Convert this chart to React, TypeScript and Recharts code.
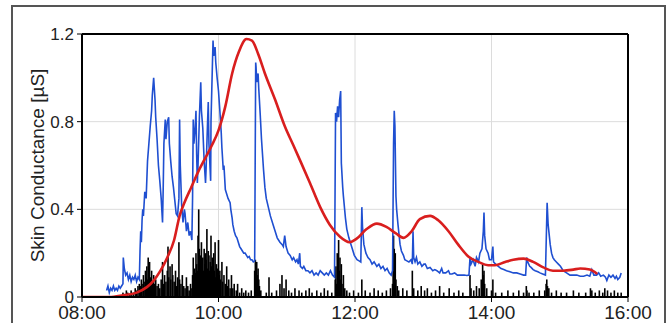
import React from "react";
import { ComposedChart, Line, Bar, XAxis, YAxis, CartesianGrid, ReferenceLine } from "recharts";

const xTicks = [8, 10, 12, 14, 16];
const yTicks = [0, 0.4, 0.8, 1.2];

// Skin conductance (blue), [hour, µS]
const blueSeries: [number, number][] = [
  [8.36,0.03],[8.38,0.05],[8.40,0.02],[8.42,0.04],[8.44,0.03],[8.46,0.05],[8.48,0.03],[8.50,0.04],[8.52,0.03],[8.54,0.05],[8.56,0.04],[8.58,0.05],
  [8.60,0.06],[8.605,0.18],[8.62,0.13],[8.64,0.10],[8.66,0.11],[8.68,0.08],[8.70,0.10],[8.72,0.07],[8.74,0.09],[8.76,0.08],[8.78,0.10],[8.80,0.07],[8.82,0.09],[8.84,0.08],
  [8.85,0.21],[8.86,0.30],[8.87,0.25],[8.88,0.35],[8.89,0.40],[8.90,0.37],[8.92,0.48],[8.94,0.45],[8.96,0.62],[8.98,0.70],[9.00,0.78],[9.02,0.85],[9.03,0.92],[9.05,1.00],[9.06,0.95],[9.07,0.90],[9.08,0.82],[9.10,0.72],[9.12,0.60],[9.14,0.53],[9.16,0.45],[9.18,0.34],[9.19,0.50],[9.20,0.70],[9.22,0.81],[9.23,0.72],[9.25,0.80],[9.27,0.82],[9.28,0.70],[9.30,0.62],[9.32,0.55],[9.34,0.50],[9.36,0.44],[9.38,0.38],[9.40,0.37],[9.42,0.45],[9.43,0.81],[9.44,0.60],[9.46,0.42],[9.48,0.34],[9.50,0.40],[9.51,0.38],[9.53,0.30],[9.55,0.34],[9.57,0.28],[9.59,0.30],[9.61,0.26],
  [9.62,0.45],[9.63,0.81],[9.64,0.70],[9.66,0.78],[9.67,0.85],[9.68,0.65],[9.69,0.52],[9.70,0.60],[9.72,0.82],[9.74,0.98],[9.75,0.85],[9.77,0.77],[9.79,0.62],[9.81,0.52],[9.82,0.60],[9.84,0.80],[9.85,0.89],[9.86,0.70],[9.885,0.53],[9.89,0.80],[9.91,1.05],[9.92,1.17],[9.93,1.10],[9.95,1.14],[9.96,1.07],[9.98,1.00],[10.00,0.94],[10.02,0.85],[10.04,0.75],[10.05,0.68],[10.07,0.58],[10.08,0.60],[10.10,0.49],[10.12,0.47],[10.14,0.45],[10.17,0.43],[10.18,0.40],[10.20,0.36],[10.21,0.33],[10.23,0.30],[10.25,0.28],[10.27,0.27],[10.29,0.25],[10.31,0.23],[10.33,0.22],[10.35,0.21],[10.37,0.20],[10.39,0.20],[10.41,0.19],[10.43,0.18],[10.45,0.185],[10.47,0.17],[10.49,0.17],[10.51,0.16],[10.53,0.165],
  [10.545,1.07],[10.55,1.05],[10.56,0.98],[10.58,1.02],[10.59,0.95],[10.61,0.84],[10.63,0.72],[10.66,0.58],[10.68,0.50],[10.70,0.45],[10.73,0.41],[10.76,0.37],[10.80,0.33],[10.83,0.30],[10.86,0.27],[10.90,0.25],[10.93,0.24],[10.95,0.23],[10.97,0.28],[10.99,0.23],[11.02,0.20],[11.05,0.19],[11.08,0.17],[11.10,0.18],[11.13,0.16],[11.15,0.17],[11.17,0.15],[11.19,0.20],[11.20,0.14],[11.23,0.13],[11.25,0.14],[11.28,0.12],[11.31,0.12],[11.34,0.11],[11.37,0.12],[11.40,0.10],[11.43,0.11],[11.46,0.10],[11.49,0.12],[11.52,0.11],[11.55,0.10],[11.58,0.11],[11.61,0.10],[11.64,0.12],[11.67,0.10],[11.70,0.09],
  [11.715,0.84],[11.73,0.80],[11.745,0.87],[11.76,0.82],[11.775,0.90],[11.79,0.94],[11.80,0.61],[11.82,0.50],[11.83,0.46],[11.86,0.36],[11.88,0.31],[11.91,0.27],[11.95,0.23],[11.99,0.19],[12.03,0.17],[12.06,0.165],[12.085,0.16],[12.10,0.41],[12.11,0.32],[12.13,0.24],[12.16,0.20],[12.19,0.18],[12.22,0.17],[12.25,0.15],[12.28,0.16],[12.32,0.14],[12.35,0.15],[12.38,0.13],[12.41,0.14],[12.44,0.12],[12.47,0.13],[12.50,0.11],[12.53,0.10],[12.55,0.12],
  [12.565,0.70],[12.575,0.85],[12.585,0.78],[12.60,0.46],[12.61,0.40],[12.63,0.33],[12.66,0.24],[12.68,0.21],[12.71,0.19],[12.73,0.17],[12.76,0.165],[12.79,0.16],[12.82,0.17],[12.84,0.15],[12.85,0.30],[12.86,0.18],[12.88,0.16],[12.90,0.18],[12.92,0.15],[12.95,0.16],[12.98,0.14],[13.01,0.15],[13.03,0.15],[13.06,0.13],[13.10,0.135],[13.14,0.12],[13.17,0.125],[13.20,0.12],[13.24,0.11],[13.27,0.13],[13.29,0.11],[13.33,0.11],[13.37,0.12],[13.39,0.105],[13.42,0.105],[13.46,0.11],[13.50,0.10],[13.53,0.10],[13.56,0.10],[13.60,0.10],[13.64,0.098],[13.67,0.10],
  [13.685,0.18],[13.70,0.15],[13.73,0.17],[13.76,0.14],[13.78,0.18],[13.81,0.16],[13.83,0.20],[13.86,0.22],[13.88,0.30],[13.89,0.385],[13.90,0.28],[13.92,0.22],[13.95,0.20],[13.97,0.17],[14.00,0.17],[14.02,0.23],[14.03,0.16],[14.06,0.15],[14.10,0.14],[14.14,0.13],[14.18,0.125],[14.22,0.12],[14.27,0.115],[14.32,0.11],[14.37,0.11],[14.42,0.105],[14.47,0.10],[14.50,0.10],
  [14.515,0.18],[14.53,0.16],[14.56,0.14],[14.58,0.135],[14.61,0.125],[14.64,0.12],[14.68,0.115],[14.71,0.11],[14.75,0.105],[14.79,0.10],
  [14.815,0.43],[14.83,0.33],[14.86,0.24],[14.88,0.20],[14.90,0.18],[14.92,0.17],[14.95,0.16],[14.98,0.15],[15.01,0.14],[15.05,0.12],[15.10,0.11],[15.15,0.10],[15.20,0.10],[15.25,0.10],[15.30,0.095],[15.35,0.095],[15.40,0.10],[15.44,0.095],[15.47,0.125],[15.50,0.10],[15.54,0.10],[15.57,0.11],[15.60,0.095],[15.64,0.10],[15.67,0.09],[15.69,0.075],[15.72,0.10],[15.75,0.09],[15.78,0.10],[15.81,0.085],[15.83,0.095],[15.85,0.08],[15.88,0.09],[15.90,0.11],
];

// Smooth (red) curve, [hour, µS]
const redSeries: [number, number][] = [
  [8.0,0],[8.4,0],[8.6,0.008],[8.8,0.02],[8.95,0.045],[9.05,0.075],[9.15,0.12],[9.25,0.18],[9.35,0.26],[9.43,0.37],[9.5,0.43],[9.6,0.50],[9.7,0.57],[9.8,0.63],[9.9,0.69],[10.0,0.76],[10.1,0.87],[10.2,1.02],[10.3,1.12],[10.41,1.177],[10.49,1.17],[10.58,1.11],[10.68,1.02],[10.83,0.90],[10.97,0.78],[11.1,0.69],[11.2,0.62],[11.34,0.52],[11.49,0.41],[11.63,0.33],[11.78,0.275],[11.92,0.25],[12.02,0.265],[12.17,0.31],[12.32,0.335],[12.46,0.32],[12.6,0.29],[12.71,0.27],[12.83,0.30],[12.95,0.355],[13.1,0.37],[13.22,0.35],[13.37,0.30],[13.51,0.24],[13.66,0.185],[13.81,0.16],[13.95,0.145],[14.05,0.145],[14.2,0.16],[14.32,0.17],[14.47,0.175],[14.61,0.16],[14.76,0.135],[14.9,0.12],[15.05,0.12],[15.2,0.125],[15.3,0.13],[15.44,0.125],[15.55,0.105],
];

// Black spikes, [hour, µS]
const spikeSeries: [number, number][] = [
  [8.60,0.02],[8.62,0.01],[8.65,0.03],[8.67,0.02],[8.70,0.01],[8.72,0.03],[8.75,0.02],[8.78,0.04],[8.80,0.03],[8.82,0.05],
  [8.84,0.06],[8.86,0.05],[8.87,0.08],[8.88,0.06],[8.90,0.10],[8.91,0.07],[8.93,0.12],[8.94,0.09],[8.95,0.14],[8.96,0.08],[8.97,0.18],[8.98,0.11],[8.99,0.16],[9.00,0.09],[9.02,0.12],[9.03,0.07],[9.05,0.10],[9.06,0.06],[9.08,0.08],[9.10,0.05],[9.12,0.06],[9.14,0.04],[9.16,0.08],[9.18,0.16],[9.19,0.06],[9.21,0.10],[9.23,0.07],[9.25,0.12],[9.26,0.23],[9.27,0.09],[9.29,0.14],[9.30,0.08],[9.32,0.15],[9.33,0.10],[9.35,0.07],[9.37,0.12],[9.38,0.05],[9.40,0.09],[9.42,0.25],[9.43,0.08],[9.45,0.06],[9.47,0.10],[9.49,0.05],[9.51,0.04],[9.53,0.09],[9.55,0.05],[9.57,0.03],[9.59,0.06],[9.61,0.04],
  [9.62,0.10],[9.63,0.18],[9.64,0.08],[9.65,0.13],[9.66,0.11],[9.67,0.20],[9.68,0.15],[9.69,0.12],[9.70,0.28],[9.71,0.40],[9.72,0.22],[9.73,0.16],[9.74,0.19],[9.75,0.25],[9.76,0.14],[9.77,0.18],[9.78,0.12],[9.79,0.22],[9.80,0.15],[9.81,0.20],[9.82,0.17],[9.83,0.31],[9.84,0.13],[9.85,0.21],[9.86,0.19],[9.87,0.12],[9.88,0.16],[9.89,0.28],[9.90,0.14],[9.91,0.18],[9.92,0.10],[9.93,0.20],[9.94,0.12],[9.95,0.25],[9.96,0.09],[9.97,0.15],[9.98,0.11],[9.99,0.13],[10.00,0.26],[10.01,0.10],[10.02,0.12],[10.03,0.08],[10.05,0.16],[10.06,0.07],[10.08,0.10],[10.10,0.06],[10.12,0.14],[10.13,0.05],[10.15,0.08],[10.17,0.04],[10.19,0.10],[10.21,0.04],[10.23,0.06],[10.26,0.03],[10.28,0.06],[10.31,0.02],[10.34,0.04],[10.37,0.02],[10.40,0.03],[10.44,0.02],[10.48,0.03],
  [10.53,0.12],[10.54,0.17],[10.55,0.14],[10.56,0.16],[10.57,0.10],[10.58,0.13],[10.59,0.08],[10.60,0.05],[10.62,0.03],
  [10.70,0.02],[10.74,0.09],[10.78,0.02],[10.85,0.03],[10.90,0.06],[10.93,0.10],[10.96,0.04],[10.99,0.08],[11.03,0.03],[11.07,0.02],[11.12,0.04],[11.18,0.03],[11.22,0.02],[11.28,0.03],[11.33,0.04],[11.37,0.02],[11.44,0.03],[11.50,0.02],[11.55,0.04],[11.60,0.03],[11.66,0.02],
  [11.71,0.08],[11.72,0.14],[11.73,0.06],[11.74,0.20],[11.75,0.10],[11.76,0.26],[11.77,0.12],[11.78,0.18],[11.79,0.08],[11.80,0.15],[11.81,0.06],[11.83,0.10],[11.85,0.04],[11.88,0.03],[11.92,0.02],
  [11.98,0.03],[12.05,0.02],[12.10,0.08],[12.15,0.03],[12.22,0.02],[12.28,0.04],[12.34,0.03],[12.40,0.02],[12.46,0.03],[12.52,0.04],
  [12.55,0.06],[12.56,0.12],[12.565,0.28],[12.57,0.18],[12.575,0.22],[12.58,0.14],[12.59,0.20],[12.60,0.08],[12.62,0.05],[12.64,0.03],
  [12.70,0.04],[12.76,0.03],[12.84,0.12],[12.86,0.04],[12.92,0.03],[12.97,0.05],[13.02,0.03],[13.06,0.04],[13.12,0.02],[13.18,0.03],[13.24,0.05],[13.30,0.02],[13.38,0.04],[13.45,0.02],[13.52,0.03],[13.58,0.02],
  [13.685,0.10],[13.70,0.04],[13.74,0.03],[13.78,0.05],[13.82,0.04],[13.85,0.08],[13.87,0.15],[13.88,0.10],[13.89,0.12],[13.90,0.06],[13.93,0.04],[14.00,0.03],[14.02,0.08],[14.06,0.02],[14.15,0.02],[14.24,0.03],[14.32,0.02],[14.40,0.03],[14.47,0.02],
  [14.51,0.05],[14.52,0.03],[14.55,0.02],[14.62,0.02],[14.70,0.03],[14.78,0.03],[14.80,0.06],[14.81,0.08],[14.82,0.05],[14.84,0.04],[14.88,0.02],[14.95,0.03],[15.02,0.02],[15.10,0.02],[15.20,0.03],[15.28,0.02],[15.38,0.02],[15.45,0.04],[15.47,0.03],[15.52,0.02],[15.58,0.03],[15.63,0.02],[15.66,0.04],[15.70,0.03],[15.75,0.02],[15.80,0.03],[15.85,0.02],[15.90,0.02],
];

type Row = { t: number; sc?: number; tonic?: number; phasic?: number };
const tableRows: Row[] = [
  ...blueSeries.map(([t, v]) => ({ t, sc: v })),
  ...redSeries.map(([t, v]) => ({ t, tonic: v })),
  ...spikeSeries.map(([t, v]) => ({ t, phasic: v })),
].sort((a, b) => a.t - b.t);

const FONT = "'Liberation Sans', Arial, sans-serif";

const fmtX = (v: number) => `${String(v).padStart(2, "0")}:00`;
const fmtY = (v: number) => (v === 0 ? "0" : v.toFixed(1));

const YLabel = (props: any) => {
  const vb = props.viewBox || {};
  const cx = (vb.x ?? 12) + 25;
  const cy = (vb.y ?? 34) + (vb.height ?? 263) / 2;
  return (
    <text
      x={cx}
      y={cy}
      transform={`rotate(-90, ${cx}, ${cy})`}
      textAnchor="middle"
      dominantBaseline="central"
      fontSize={19}
      fontFamily={FONT}
      fill="#222"
    >
      Skin Conductance [µS]
    </text>
  );
};

// Thin spike: keeps the library's x/y/height, only fixes the drawn width.
const SpikeShape = (props: any) => {
  const { x, y, width, height } = props;
  if (height == null || !isFinite(height) || height <= 0) return null;
  const cx = x + (width || 0) / 2;
  return <rect x={cx - 0.8} y={y} width={1.6} height={height} fill="#000" />;
};

export default function App() {
  return (
    <div style={{ position: "absolute", left: 0, top: 0, width: 667, height: 323, background: "#fff", overflow: "hidden" }}>
      <div
        style={{
          position: "absolute",
          left: 11,
          top: 5,
          width: 655,
          height: 340,
          border: "2px solid #555",
          boxSizing: "border-box",
        }}
      />
      <div style={{ position: "absolute", left: 0, top: 0 }}>
        <ComposedChart
          width={667}
          height={323}
          data={tableRows}
          margin={{ top: 34, right: 39, bottom: 0, left: 12 }}
        >
          <CartesianGrid stroke="#dcdcdc" strokeWidth={1} />
          <XAxis
            dataKey="t"
            type="number"
            domain={[8, 16]}
            ticks={xTicks}
            tickFormatter={fmtX}
            height={26}
            axisLine={{ stroke: "#000", strokeWidth: 2 }}
            tickLine={{ stroke: "#000" }}
            tickSize={5}
            tickMargin={4}
            tick={{ fontSize: 19, fill: "#222", fontFamily: FONT }}
            interval={0}
            allowDataOverflow
          />
          <YAxis
            type="number"
            domain={[0, 1.2]}
            ticks={yTicks}
            tickFormatter={fmtY}
            width={70}
            axisLine={{ stroke: "#000", strokeWidth: 2 }}
            tickLine={{ stroke: "#000" }}
            tickSize={5}
            tickMargin={3}
            tick={{ fontSize: 17, fill: "#222", fontFamily: FONT }}
            interval={0}
            allowDataOverflow
            label={<YLabel />}
          />
          <ReferenceLine y={1.2} stroke="#000" strokeWidth={2} />
          <ReferenceLine x={16} stroke="#000" strokeWidth={2} />
          <Bar dataKey="phasic" fill="#000" shape={<SpikeShape />} isAnimationActive={false} />
          <Line
            dataKey="sc"
            type="linear"
            stroke="#1f4fd1"
            strokeWidth={1.6}
            dot={false}
            connectNulls
            isAnimationActive={false}
          />
          <Line
            dataKey="tonic"
            type="monotone"
            stroke="#d91e1e"
            strokeWidth={2.6}
            dot={false}
            connectNulls
            isAnimationActive={false}
          />
        </ComposedChart>
      </div>
    </div>
  );
}
